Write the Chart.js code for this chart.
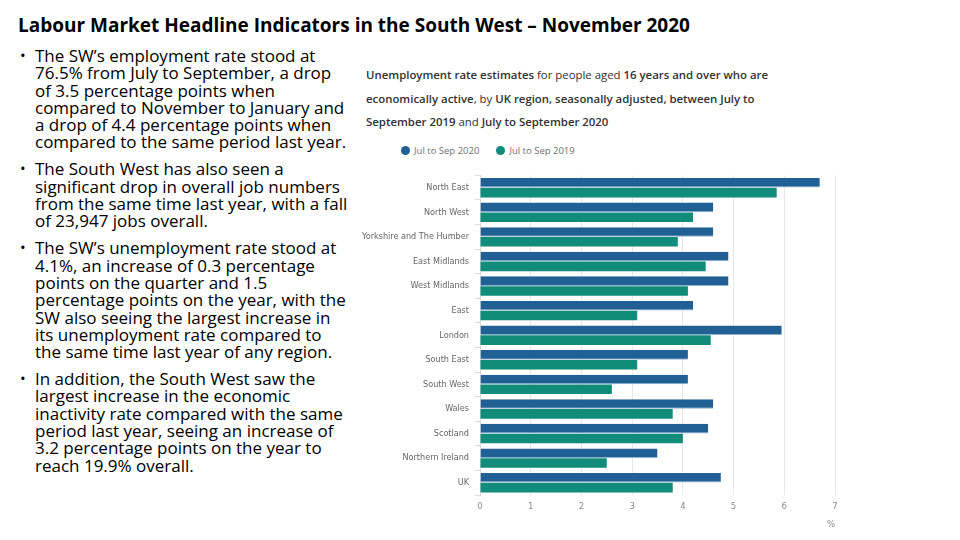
<!DOCTYPE html>
<html>
<head>
<meta charset="utf-8">
<script src="https://cdn.jsdelivr.net/npm/chart.js@4"></script>
<style>
  body { margin: 0; width: 960px; height: 540px; background: #fff; position: relative; overflow: hidden; font-family: "Open Sans", sans-serif; }
  #title { position: absolute; left: 18px; top: 12px; font-size: 19px; line-height: 26px; font-weight: bold; color: #000; white-space: nowrap; }
  #bullets { position: absolute; left: 20px; top: 47px; margin: 0; padding: 0; list-style: none; font-size: 17px; line-height: 17.3px; color: #000; }
  #bullets li { position: relative; padding-left: 15px; margin-bottom: 9.7px; white-space: nowrap; }
  #bullets li::before { content: "•"; position: absolute; left: 0; top: 0; font-size: 15px; }
  #subtitle { position: absolute; left: 366px; top: 63px; font-size: 11.4px; line-height: 23.5px; color: #323132; white-space: nowrap; }
  #subtitle b { font-weight: 600; }
  #legend { position: absolute; left: 401px; top: 144px; font-size: 9.5px; color: #707070; white-space: nowrap; }
  #legend span.item { margin-right: 17px; }
  #legend span.dot { display: inline-block; width: 9px; height: 9px; border-radius: 50%; margin-right: 4px; vertical-align: -1px; }
  #wrap { position: absolute; left: 350px; top: 164px; width: 496px; height: 366px; }
</style>
</head>
<body>
<div id="title">Labour Market Headline Indicators in the South West – November 2020</div>
<ul id="bullets">
  <li>The SW’s employment rate stood at<br>76.5% from July to September, a drop<br>of 3.5 percentage points when<br>compared to November to January and<br>a drop of 4.4 percentage points when<br>compared to the same period last year.</li>
  <li>The South West has also seen a<br>significant drop in overall job numbers<br>from the same time last year, with a fall<br>of 23,947 jobs overall.</li>
  <li>The SW’s unemployment rate stood at<br>4.1%, an increase of 0.3 percentage<br>points on the quarter and 1.5<br>percentage points on the year, with the<br>SW also seeing the largest increase in<br>its unemployment rate compared to<br>the same time last year of any region.</li>
  <li>In addition, the South West saw the<br>largest increase in the economic<br>inactivity rate compared with the same<br>period last year, seeing an increase of<br>3.2 percentage points on the year to<br>reach 19.9% overall.</li>
</ul>
<div id="subtitle"><b>Unemployment rate estimates</b> for people aged <b>16 years and over who are<br>economically active</b>, by <b>UK region, seasonally adjusted, between July to<br>September 2019</b> and <b>July to September 2020</b></div>
<div id="legend"></div>
<div id="wrap"><canvas id="chart"></canvas></div>

<script>
const regions = ["North East", "North West", "Yorkshire and The Humber", "East Midlands", "West Midlands", "East", "London", "South East", "South West", "Wales", "Scotland", "Northern Ireland", "UK"];
const seriesNames = ["Jul to Sep 2020", "Jul to Sep 2019"];
const seriesColors = ["#206095", "#118c7b"];
const rate2020 = [6.7, 4.6, 4.6, 4.9, 4.9, 4.2, 5.95, 4.1, 4.1, 4.6, 4.5, 3.5, 4.75];
const rate2019 = [5.85, 4.2, 3.9, 4.45, 4.1, 3.1, 4.55, 3.1, 2.6, 3.8, 4.0, 2.5, 3.8];
const xTicks = [0, 1, 2, 3, 4, 5, 6, 7];

document.addEventListener("DOMContentLoaded", () => {

const legend = document.getElementById("legend");
seriesNames.forEach((name, i) => {
    legend.innerHTML += `<span class="item"><span class="dot" style="background:${seriesColors[i]}"></span>${name}</span>`;
});

const tickFont = { family: "'Liberation Sans Narrow', 'DejaVu Sans Condensed', Lato, sans-serif", size: 9.5 };
const yFont = { family: "'Liberation Sans Narrow', 'DejaVu Sans Condensed', Lato, sans-serif", size: 9 };

new Chart(document.getElementById("chart"), {
    type: "bar",
    data: {
        labels: regions,
        datasets: [
            { label: seriesNames[0], data: rate2020, backgroundColor: seriesColors[0], borderColor: "#8fb4d0", borderWidth: { bottom: 1 }, borderSkipped: false },
            { label: seriesNames[1], data: rate2019, backgroundColor: seriesColors[1], borderWidth: 0 }
        ]
    },
    options: {
        indexAxis: "y",
        responsive: true,
        maintainAspectRatio: false,
        animation: false,
        datasets: { bar: { categoryPercentage: 0.8, barPercentage: 0.97 } },
        layout: { padding: { top: 0, right: 11, left: 0, bottom: 0 } },
        plugins: { legend: { display: false }, tooltip: { enabled: false } },
        scales: {
            x: {
                min: xTicks[0],
                max: xTicks[xTicks.length - 1],
                afterBuildTicks: s => { s.ticks = xTicks.map(v => ({ value: v })); },
                afterFit: s => { s.height = 35; },
                border: { display: false },
                grid: { color: "#e8e8e8", drawTicks: false },
                ticks: { color: "#8a8a8a", font: tickFont, padding: 6 },
                title: { display: true, text: "%", align: "end", color: "#8a8a8a", font: tickFont, padding: 0 }
            },
            y: {
                afterFit: s => { s.width = 130; },
                border: { display: true, color: "#dcdcdc" },
                grid: { drawOnChartArea: false, color: "#dcdcdc", tickLength: 5 },
                ticks: { color: "#666", font: yFont, padding: 6, autoSkip: false }
            }
        }
    }
});

});
</script>
</body>
</html>
